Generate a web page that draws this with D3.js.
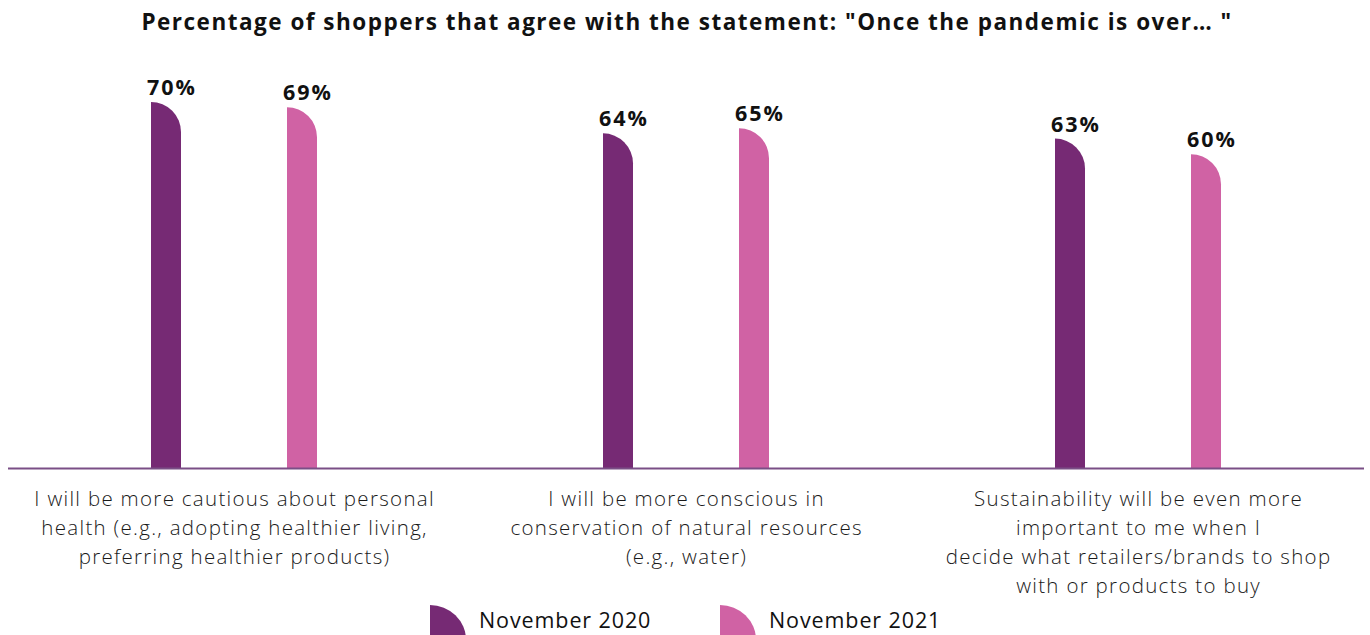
<!DOCTYPE html>
<html><head><meta charset="utf-8">
<script src="https://cdn.jsdelivr.net/npm/d3@7"></script>
<style>body{margin:0;background:#fff}svg{display:block}</style>
</head><body>
<script>
const categories = [
  ["I will be more cautious about personal","health (e.g., adopting healthier living,","preferring healthier products)"],
  ["I will be more conscious in","conservation of natural resources","(e.g., water)"],
  ["Sustainability will be even more","important to me when I","decide what retailers/brands to shop","with or products to buy"]
];
const seriesNames = ["November 2020","November 2021"];
const nov2020 = [70,64,63];
const nov2021 = [69,65,60];
const colors = ["#762a74","#d062a4"];
const title = 'Percentage of shoppers that agree with the statement: "Once the pandemic is over… "';

const W=1370,H=635;
const svg=d3.select("body").append("svg").attr("width",W).attr("height",H);
const font="'Open Sans', 'Noto Sans', sans-serif";

svg.append("text").attr("x",687).attr("y",30).attr("text-anchor","middle")
  .attr("font-family",font).attr("font-weight",700).attr("font-size",22.5)
  .attr("letter-spacing",1.5).attr("fill","#111").text(title);

const x=d3.scaleBand().domain(d3.range(categories.length)).range([8,1364]);
const y=d3.scaleLinear().domain([0,70]).range([468,102]);
const bw=30, off=[-68,68];

function barPath(x0,top,bottom,w){
  const r=Math.min(w,bottom-top);
  return `M${x0},${bottom}V${top}A${w},${r} 0 0 1 ${x0+w},${top+r}V${bottom}Z`;
}

const series=[nov2020,nov2021];
series.forEach((vals,si)=>{
  vals.forEach((v,i)=>{
    const cx=x(i)+x.bandwidth()/2+off[si];
    svg.append("path").attr("d",barPath(cx-bw/2,y(v),y(0),bw)).attr("fill",colors[si]);
    svg.append("text").attr("x",cx+6).attr("y",y(v)-7).attr("text-anchor","middle")
      .attr("font-family",font).attr("font-weight",700).attr("font-size",21.5)
      .attr("letter-spacing",2).attr("fill","#111").text(v+"%");
  });
});

svg.append("line").attr("x1",8).attr("x2",1364).attr("y1",y(0)+0.5).attr("y2",y(0)+0.5)
  .attr("stroke","#7a4f86").attr("stroke-width",2);

categories.forEach((lines,i)=>{
  const t=svg.append("text").attr("text-anchor","middle").attr("font-family",font)
    .attr("font-weight",300).attr("font-size",20.5).attr("letter-spacing",1.3).attr("fill","#1a1a1a");
  lines.forEach((l,j)=>t.append("tspan").attr("x",x(i)+x.bandwidth()/2+0.6).attr("y",506+j*29).text(l));
});

const lx=[430,720];
seriesNames.forEach((n,si)=>{
  svg.append("path").attr("d",barPath(lx[si],605,640,36)).attr("fill",colors[si]);
  svg.append("text").attr("x",lx[si]+49).attr("y",628).attr("font-family",font)
    .attr("font-size",21.5).attr("letter-spacing",0.9).attr("fill","#111").text(n);
});
</script>
</body></html>
